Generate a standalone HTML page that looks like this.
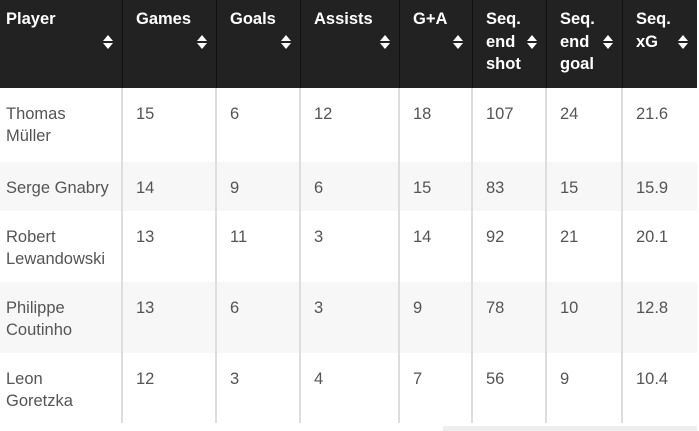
<!DOCTYPE html>
<html><head><meta charset="utf-8"><style>
body{margin:0;width:699px;height:431px;background:#fff;overflow:hidden;font-family:"Liberation Sans",sans-serif;position:relative}
.hd{position:absolute;left:0;top:0;width:697px;height:88px;background:#222}
.hc{position:absolute;top:0;height:88px;color:#fff;font-weight:bold;font-size:16.5px;line-height:22.5px;padding-top:8px;box-sizing:border-box}
.sort{position:absolute;right:14px;top:35px;width:0;height:0}
.sort:before,.sort:after{content:"";position:absolute;left:-5px;border-left:5px solid transparent;border-right:5px solid transparent}
.sort:before{top:0;border-bottom:6px solid #fff}
.sort:after{top:8px;border-top:6px solid #fff}
.row{position:absolute;left:0;width:697px}
.c{position:absolute;font-size:16.5px;line-height:22px;color:#555;box-sizing:border-box}
.vl{position:absolute;top:88px;height:335px;width:2px;background:#ddd}
.hv{position:absolute;top:0;height:88px;width:1px;background:#111}
</style></head><body>
<div class="hd"></div>
<div id="t"></div>
<div style="position:absolute;left:443px;top:426px;width:254px;height:5px;background:#eee"></div>
<script>
const headers=["Player","Games","Goals","Assists","G+A","Seq.<br>end<br>shot","Seq.<br>end<br>goal","Seq.<br>xG"];
const colX=[0,122,216,300,399,472,546,622,697];
const rowY=[88,162,211,282,353,423];
const players=["Thomas<br>Müller","Serge Gnabry","Robert<br>Lewandowski","Philippe<br>Coutinho","Leon<br>Goretzka"];
const games=[15,14,13,13,12];
const goals=[6,9,11,6,3];
const assists=[12,6,3,3,4];
const ga=[18,15,14,9,7];
const seqShot=[107,83,92,78,56];
const seqGoal=[24,15,21,10,9];
const seqXG=["21.6","15.9","20.1","12.8","10.4"];
const cols=[players,games,goals,assists,ga,seqShot,seqGoal,seqXG];
const t=document.getElementById('t');
let h='';
headers.forEach((hd,i)=>{
 const pl=i?14:6;
 h+=`<div class="hc" style="left:${colX[i]}px;width:${colX[i+1]-colX[i]}px;padding-left:${pl}px">${hd}<span class="sort"></span></div>`;
 if(i>0) h+=`<div class="hv" style="left:${colX[i]}px"></div>`;
});
for(let r=0;r<5;r++){
 h+=`<div class="row" style="top:${rowY[r]}px;height:${rowY[r+1]-rowY[r]}px;background:${r%2?'#f7f7f7':'#fff'}"></div>`;
 cols.forEach((c,i)=>{
  h+=`<div class="c" style="left:${colX[i]+(i?14:6)}px;top:${rowY[r]+15}px">${c[r]}</div>`;
 });
}
for(let i=1;i<8;i++) h+=`<div class="vl" style="left:${colX[i]-1}px"></div>`;
t.innerHTML=h;
</script>
</body></html>
